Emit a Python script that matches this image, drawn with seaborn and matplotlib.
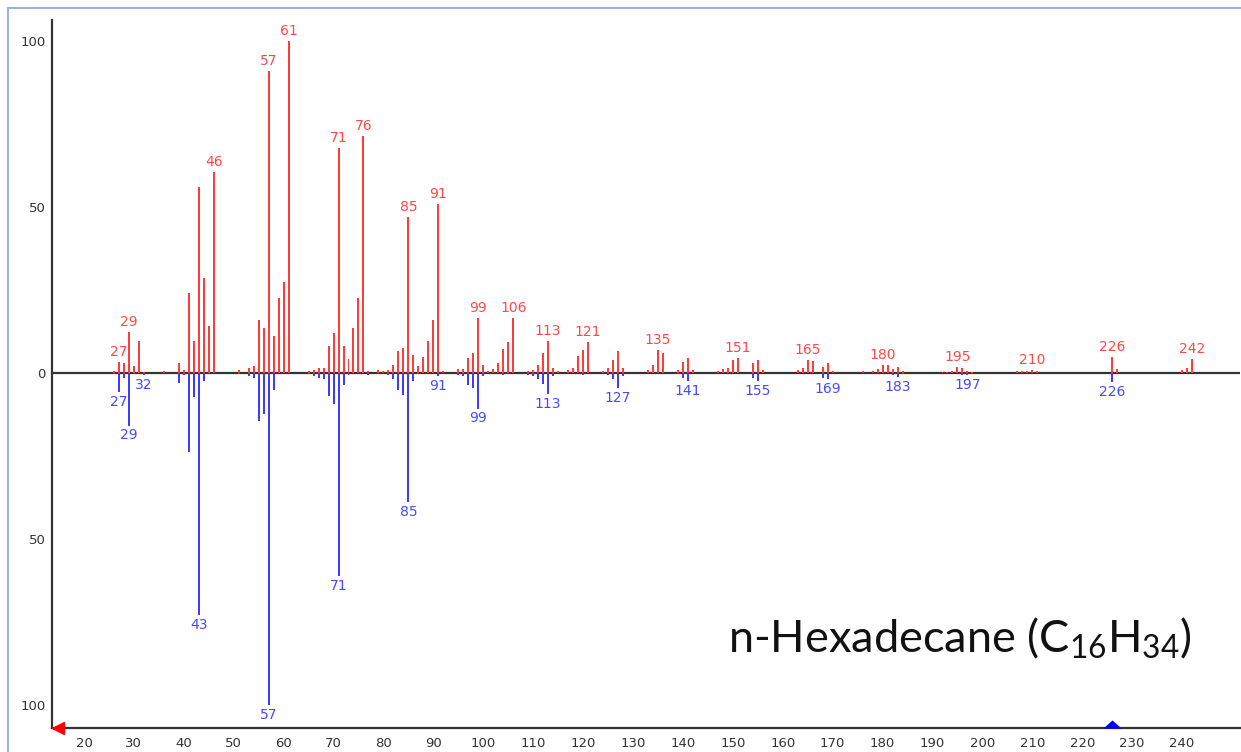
import numpy as np
import pandas as pd
import matplotlib
matplotlib.use("Agg")
import matplotlib.pyplot as plt
from matplotlib.patches import Rectangle
from matplotlib.ticker import MultipleLocator, FuncFormatter
import seaborn as sns

# sample spectrum (top, red)
red_mz = [26, 27, 28, 29, 30, 31, 32, 36, 39, 40, 41, 42, 43, 44, 45, 46,
          51, 53, 54, 55, 56, 57, 58, 59, 60, 61,
          65, 66, 67, 68, 69, 70, 71, 72, 73, 74, 75, 76, 77,
          79, 80, 81, 82, 83, 84, 85, 86, 87, 88, 89, 90, 91, 92,
          95, 96, 97, 98, 99, 100, 101, 102, 103, 104, 105, 106,
          109, 110, 111, 112, 113, 114, 115, 117, 118, 119, 120, 121,
          124, 125, 126, 127, 128, 133, 134, 135, 136, 139, 140, 141, 142,
          147, 148, 149, 150, 151, 154, 155, 156, 163, 164, 165, 166, 168, 169, 170,
          176, 178, 179, 180, 181, 182, 183, 184, 192, 193, 194, 195, 196, 197, 198,
          207, 208, 209, 210, 211, 226, 227, 240, 241, 242]
red_int = [0.5, 3.4, 3, 12.4, 2, 9.7, 0.4, 0.5, 3, 1, 24, 9.6, 56, 28.6, 14.2, 60.5,
           1, 1.5, 2, 16, 13.5, 91, 11, 22.6, 27.5, 100,
           0.5, 1, 1.5, 1.5, 8, 12, 67.8, 8, 4.3, 13.4, 22.6, 71.3, 0.5,
           1, 0.6, 1, 2.3, 6.6, 7.6, 47, 5.3, 2, 4.8, 9.7, 15.9, 51, 0.5,
           1.2, 1.2, 4.5, 6, 16.5, 2.4, 0.7, 1.1, 2.9, 7.2, 9.2, 16.5,
           0.7, 1, 2.4, 5.9, 9.7, 1.5, 0.5, 1, 1.5, 5, 6.8, 9.3,
           0.5, 1.5, 4, 6.5, 1.5, 1, 2.5, 6.8, 6, 0.8, 3.2, 4.5, 0.8,
           0.5, 1.2, 1.5, 4, 4.5, 3, 4, 0.8, 0.8, 1.5, 4, 3.7, 1.8, 3, 0.5,
           0.5, 0.7, 1.2, 2.5, 2.5, 1.2, 1.7, 0.7, 0.4, 0.4, 0.7, 1.9, 1.4, 0.7, 0.4,
           0.7, 0.7, 0.7, 0.9, 0.7, 4.7, 1.2, 0.9, 1.4, 4.2]
red_labels = [27, 29, 46, 57, 61, 71, 76, 85, 91, 99, 106, 113, 121, 135,
              151, 165, 180, 195, 210, 226, 242]

# library spectrum (bottom, blue)
blue_mz = [26, 27, 28, 29, 30, 32, 39, 40, 41, 42, 43, 44,
           51, 53, 54, 55, 56, 57, 58,
           65, 66, 67, 68, 69, 70, 71, 72, 73, 77, 79,
           81, 82, 83, 84, 85, 86, 87, 91, 95, 96, 97, 98, 99, 100,
           104, 105, 109, 110, 111, 112, 113, 114, 120, 125, 126, 127, 128,
           139, 140, 141, 154, 155, 168, 169, 182, 183, 184, 196, 197, 198, 226]
blue_int = [0.5, 5.8, 1.5, 15.9, 0.5, 0.8, 3, 0.6, 23.8, 7.4, 73, 2.6,
            0.5, 1, 1.7, 14.4, 12.3, 100, 5.1,
            0.5, 1, 1.7, 1.9, 7, 9.3, 61.3, 3.7, 0.6, 0.6, 0.5,
            0.8, 1.9, 5.2, 6.8, 39, 2.6, 0.5, 1, 0.8, 1, 3.7, 4.5, 10.8, 1,
            0.8, 0.5, 0.8, 1, 2, 3.5, 6.5, 1, 0.8, 0.8, 2, 4.5, 1,
            0.5, 1.5, 2.5, 1.5, 2.5, 1.5, 2, 0.8, 1.3, 0.5, 0.8, 0.8, 0.5, 2.8]
blue_labels = [27, 29, 32, 43, 57, 71, 85, 91, 99, 113, 127, 141, 155, 169,
               183, 197, 226]

title = r"n-Hexadecane (C$_{16}$H$_{34}$)"

RED = "#ff3c3c"
BLUE = "#3c3cff"
AXC = "#333333"

sns.set_style("white")
plt.rcParams["font.family"] = ["DejaVu Sans"]
plt.rcParams["mathtext.fontset"] = "custom"
plt.rcParams["mathtext.rm"] = "Lato"
plt.rcParams["mathtext.it"] = "Lato:italic"
plt.rcParams["mathtext.bf"] = "Lato:bold"

top = pd.DataFrame({"mz": red_mz, "val": red_int})
bot = pd.DataFrame({"mz": blue_mz, "val": -np.array(blue_int)})

fig = plt.figure(figsize=(12.41, 7.52), dpi=100)
ax = fig.add_axes([52 / 1241, 1 - 728 / 752, (1240 - 52) / 1241, (728 - 20) / 752])

sns.barplot(data=top, x="mz", y="val", native_scale=True, orient="x", width=0.4,
            color=RED, saturation=1, linewidth=0, errorbar=None, ax=ax)
sns.barplot(data=bot, x="mz", y="val", native_scale=True, orient="x", width=0.4,
            color=BLUE, saturation=1, linewidth=0, errorbar=None, ax=ax)

for m in red_labels:
    v = red_int[red_mz.index(m)]
    ax.annotate(str(m), xy=(m, v), xytext=(0, 2), textcoords="offset points",
                ha="center", va="bottom", fontsize=10, color="#ff4848")
for m in blue_labels:
    v = blue_int[blue_mz.index(m)]
    ax.annotate(str(m), xy=(m, -v), xytext=(0, -2), textcoords="offset points",
                ha="center", va="top", fontsize=10, color="#4848ff")

ax.axhline(0, color=AXC, lw=1.6, zorder=0.5)

ax.set_xlim(13.6, 251.6)
ax.set_ylim(-107, 106.3)
ax.set_xlabel("")
ax.set_ylabel("")

sns.despine(ax=ax, top=True, right=True)
for s in ["left", "bottom"]:
    ax.spines[s].set_color(AXC)
    ax.spines[s].set_linewidth(1.6)

ax.xaxis.set_minor_locator(MultipleLocator(2))
ax.yaxis.set_major_locator(MultipleLocator(50))
ax.yaxis.set_minor_locator(MultipleLocator(25))
ax.yaxis.set_major_formatter(FuncFormatter(lambda v, p: f"{abs(v):.0f}"))
ax.set_xticks([t for t in range(20, 250, 10)])
ax.tick_params(axis="both", which="major", direction="out", length=4.5, width=1.2,
               color=AXC, labelcolor="#333333", labelsize=9.5, pad=2)
ax.tick_params(axis="both", which="minor", direction="out", length=2.5, width=1,
               color=AXC)
ax.tick_params(axis="y", which="major", pad=0)

# axis markers
ax.plot([14.8], [-107], marker="<", color="red", ms=9, clip_on=False, zorder=5)
flat_tri = [(-1, -0.45), (1, -0.45), (0, 0.45), (-1, -0.45)]
ax.plot([226], [-105.7], marker=flat_tri, color="blue", ms=13, mew=0,
        clip_on=False, zorder=5)

fig.text(728 / 1241, 1 - 652 / 752, title, fontsize=32.5, family="Lato",
         color="#111111", ha="left", va="baseline")

fig.patches.append(Rectangle((8 / 1241, -0.05), 1.2, 1 - 8 / 752 + 0.05,
                             transform=fig.transFigure, fill=False,
                             edgecolor="#9ab3d8", lw=1.5))

fig.savefig("out.png", dpi=100)
